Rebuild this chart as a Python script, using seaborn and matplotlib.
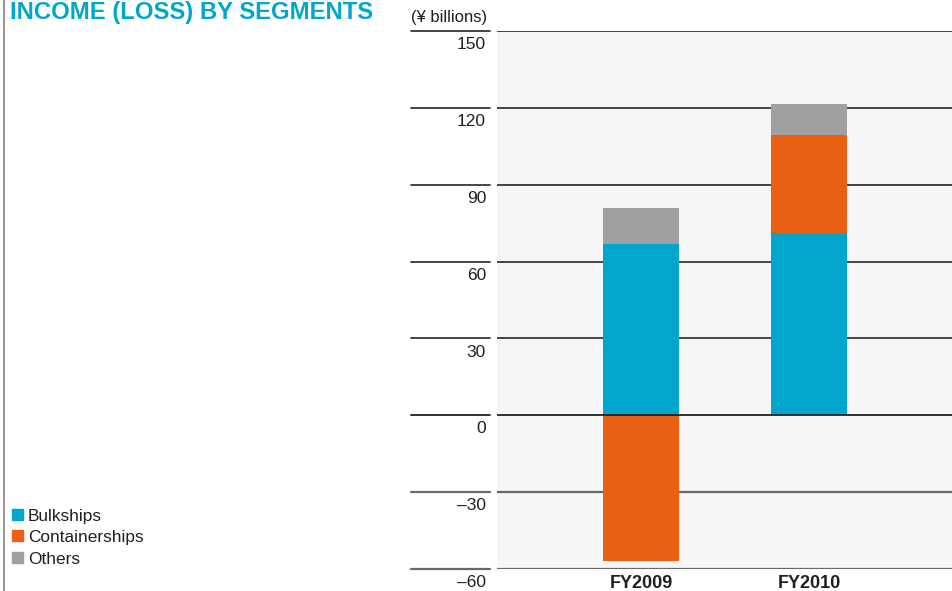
import matplotlib
matplotlib.use("Agg")
import matplotlib.pyplot as plt
import matplotlib.transforms as mtransforms
from matplotlib.lines import Line2D
from matplotlib.patches import Rectangle
import seaborn as sns
import pandas as pd
import numpy as np

# ---- data (¥ billions) ----
years = ["FY2009", "FY2010"]
bulkships = [67.0, 71.0]
containerships = [-56.8, 38.6]
others = [14.0, 12.1]
segments = ["Bulkships", "Containerships", "Others"]
colors = ["#00a6cc", "#e96014", "#a0a0a0"]
yticks = [-60, -30, 0, 30, 60, 90, 120, 150]
ytick_labels = ["\u201360", "\u201330", "0", "30", "60", "90", "120", "150"]

sns.set_theme(style="white")
plt.rcParams["font.family"] = ["Liberation Sans", "DejaVu Sans"]

fig = plt.figure(figsize=(9.52, 5.91), dpi=100)
ax = fig.add_axes([497 / 952, 1 - 569 / 591, 455 / 952, (569 - 31) / 591])
ax.set_facecolor("#f7f7f7")

# stacking: positives cumulate upward, negatives start from zero
series = [bulkships, containerships, others]
pos_base = np.zeros(len(years))
neg_base = np.zeros(len(years))
for name, vals, col in zip(segments, series, colors):
    vals = np.array(vals)
    bottoms = np.where(vals >= 0, pos_base, neg_base)
    df = pd.DataFrame({"year": years, "value": vals})
    sns.barplot(data=df, x="year", y="value", bottom=bottoms, color=col,
                width=0.45, ax=ax, saturation=1, zorder=3, linewidth=0)
    pos_base = pos_base + np.where(vals >= 0, vals, 0)
    neg_base = neg_base + np.where(vals < 0, vals, 0)

ax.set_xlim(-0.857, 1.85)
ax.set_ylim(-60, 150)
ax.set_xlabel("")
ax.set_ylabel("")
ax.set_yticks([])
ax.set_xticks([])
for s in ax.spines.values():
    s.set_visible(False)

# gridlines + left stubs + labels
blend = mtransforms.blended_transform_factory(ax.transAxes, ax.transData)
for v, lab in zip(yticks, ytick_labels):
    if v == 0:
        c, lw = "#231f20", 1.3
    elif v < 0:
        c, lw = "#6d6767", 1.6
    else:
        c, lw = "#3a3535", 1.3
    ax.axhline(v, color=c, lw=lw, zorder=2 if v != 0 else 4)
    ax.add_line(Line2D([-0.189, -0.0155], [v, v], transform=blend, color=c,
                       lw=lw, clip_on=False))
    ax.text(-0.024, v - 2.4, lab, transform=blend, ha="right", va="top",
            fontsize=12.5, color="#231f20")

ax.text(-0.189, 1.0 + 6 / 538, "(\u00a5 billions)", transform=ax.transAxes,
        ha="left", va="bottom", fontsize=12, color="#231f20")

# category labels
for i, y in enumerate(years):
    ax.text(i, -62.3, y, ha="center", va="top", fontsize=13,
            fontweight="bold", color="#231f20")

# title
fig.text(10 / 952, 1 - 1 / 591, "INCOME (LOSS) BY SEGMENTS", ha="left",
         va="top", fontsize=17.2, fontweight="bold", color="#00a6cc")

# left rule
fig.add_artist(Line2D([3.5 / 952, 3.5 / 952], [0, 1], color="#9a9a9a", lw=1.5))

# legend
for k, (name, col) in enumerate(zip(segments, colors)):
    yc = 1 - (514 + k * 21.5) / 591
    fig.add_artist(Rectangle((12 / 952, yc - 5.5 / 591), 11 / 952, 11 / 591,
                             color=col, transform=fig.transFigure))
    fig.text(28 / 952, yc - 2 / 591, name, ha="left", va="center",
             fontsize=12.4, color="#231f20")

fig.savefig("out.png", dpi=100)
